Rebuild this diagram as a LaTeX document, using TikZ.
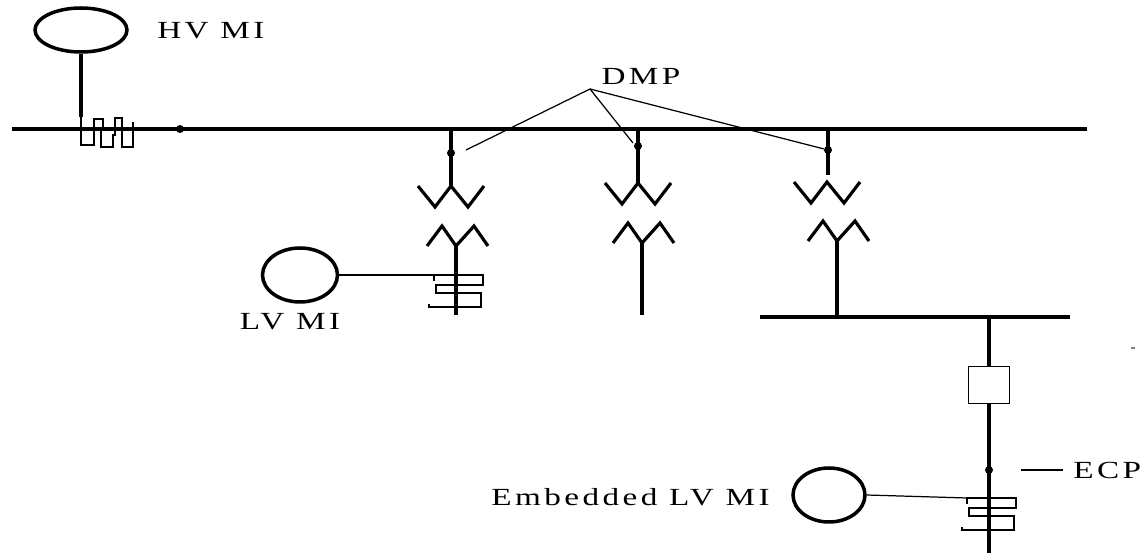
\documentclass[tikz,border=0pt]{standalone}
\usepackage{fontspec}
\newfontfamily\lblfont{Liberation Serif}[FakeStretch=1.35,LetterSpace=14]
\usetikzlibrary{shapes.geometric}

\tikzset{
  bus/.style={line width=2.1pt},
  thin/.style={line width=0.7pt},
  coil/.style={line width=1.8pt, line join=miter},
  ctwire/.style={line width=0.9pt},
  meter/.style={draw, ellipse, line width=2pt, inner sep=0pt},
  dot/.style={circle, fill, inner sep=0pt, minimum size=0.16cm},
  lbl/.style={inner sep=0pt, font=\lblfont\fontsize{14}{16}\selectfont},
  breaker/.style={draw, line width=1pt, inner sep=0pt, minimum width=0.82cm, minimum height=0.74cm},
  upcoil/.pic={\draw[coil] (-33,0) -- (-16,21) -- (0,0) -- (17,21) -- (33,0);},
  lowcoil/.pic={\draw[coil] (-29,0) -- (-14,-20) -- (0,0) -- (18,-20) -- (32,0);},
  ctcoil/.pic={\draw[ctwire] (-22,6) -- (-22,0) -- (27,0) -- (27,10) -- (-20,10) -- (-20,18)
     -- (25,18) -- (25,32) -- (-27,32) -- (-27,29);}
}

\begin{document}
\begin{tikzpicture}[x=0.02cm,y=-0.02cm]
    \useasboundingbox (0,0) rectangle (1147,553);

    % Barra principal
    \coordinate (busW) at (12,129);
    \coordinate (busE) at (1087,129);
    \draw[bus] (busW) -- (busE);
    \node[dot] (hvdot) at (180,129) {};

    % HV MI
    \node[meter, minimum width=1.84cm, minimum height=0.88cm] (hvmi) at (81,30) {};
    \node[lbl, anchor=west] (hvlbl) at (157,31) {HV MI};
    \coordinate (hvct) at (81,117);
    \draw[bus] (hvmi.south) -- (hvct);
    \draw[ctwire] (hvct) -- (81,145) -- (94,145) -- (94,119) -- (103,119) -- (103,128)
        -- (101,128) -- (101,147) -- (113,147) -- (113,135) -- (115,135) -- (115,118)
        -- (122,118) -- (122,147) -- (133,147) -- (133,122);

    % Ramas
    \coordinate (b1) at (451,129);
    \coordinate (b2) at (638,129);
    \coordinate (b3) at (828,129);
    \node[dot] (d1) at (451,153) {};
    \node[dot] (d2) at (638,146) {};
    \node[dot] (d3) at (828,150) {};
    \coordinate (w1) at (451,186);
    \coordinate (w2) at (638,183);
    \coordinate (w3) at (827,182);
    \coordinate (g3) at (828,175);
    \coordinate (m1) at (456,246);
    \coordinate (m2) at (642,243);
    \coordinate (m3) at (837,241);
    \coordinate (e1) at (456,315);
    \coordinate (e2) at (642,315);
    \draw[bus] (b1) -- (w1);
    \draw[bus] (b2) -- (w2);
    \draw[bus] (b3) -- (g3);
    \pic at (w1) {upcoil};
    \pic at (w2) {upcoil};
    \pic at (w3) {upcoil};
    \pic at (m1) {lowcoil};
    \pic at (m2) {lowcoil};
    \pic at (m3) {lowcoil};
    \draw[bus] (m1) -- (e1);
    \draw[bus] (m2) -- (e2);

    % DMP
    \node[lbl] (dmp) at (641,76) {DMP};
    \coordinate (dmptip) at (590,89);
    \coordinate (p1) at (466,150);
    \coordinate (p2) at (633,143);
    \draw[thin] (p1) -- (dmptip) -- (p2);
    \draw[thin] (dmptip) -- (d3);

    % LV MI
    \node[meter, minimum width=1.5cm, minimum height=1.08cm] (lvmi) at (300,275) {};
    \node[lbl] (lvlbl) at (290,322) {LV MI};
    \coordinate (ct1) at (456,275);
    \coordinate (ct1w) at (434,275);
    \pic at (ct1) {ctcoil};
    \draw[thin] (lvmi.east) -- (ct1w);

    % Barra inferior
    \coordinate (lbW) at (760,317);
    \coordinate (lbE) at (1070,317);
    \coordinate (f0) at (989,317);
    \coordinate (fEnd) at (989,553);
    \draw[bus] (lbW) -- (lbE);
    \draw[bus] (m3) -- (837,317);
    \node[breaker] (brk) at (989,385) {};
    \draw[bus] (f0) -- (brk.north);
    \draw[bus] (brk.south) -- (fEnd);

    % ECP
    \node[dot] (ecpdot) at (989,470) {};
    \coordinate (ecpA) at (1021,470);
    \node[lbl, anchor=west] (ecp) at (1073,470) {ECP};
    \draw[thin, shorten >=0.2cm] (ecpA) -- (ecp.west);

    % Embedded LV MI
    \node[meter, minimum width=1.44cm, minimum height=1.08cm] (emi) at (829,495) {};
    \node[lbl, anchor=east] (emlbl) at (770,497) {Embedded LV MI};
    \coordinate (ct2) at (989,498);
    \coordinate (ct2w) at (967,498);
    \pic at (ct2) {ctcoil};
    \draw[thin] (emi.east) -- (ct2w);

    \fill[gray] (1131,347) rectangle (1135,349);
\end{tikzpicture}
\end{document}
